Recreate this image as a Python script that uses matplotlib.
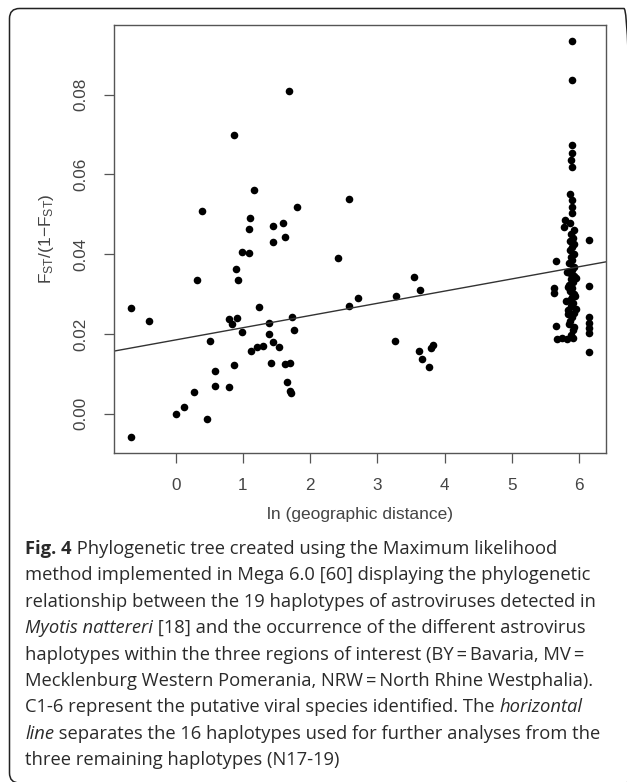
import numpy as np
import matplotlib.pyplot as plt
from matplotlib.patches import FancyBboxPatch

plt.rcParams["mathtext.fontset"] = "custom"
plt.rcParams["mathtext.rm"] = "Liberation Sans"

# points: ln(geographic distance) vs Fst/(1-Fst)
ln_dist = [
    -0.66, -0.66, -0.40, 0.00, 0.12, 0.27, 0.32, 0.39, 0.46, 0.51, 0.58, 0.58,
    0.79, 0.79, 0.83, 0.86, 0.86, 0.89, 0.91, 0.93, 0.98, 0.99, 1.09, 1.09,
    1.10, 1.12, 1.17, 1.21, 1.24, 1.30, 1.39, 1.39, 1.41, 1.44, 1.45, 1.45,
    1.53, 1.59, 1.62, 1.63, 1.66, 1.68, 1.70, 1.70, 1.71, 1.73, 1.76, 1.81,
    2.42, 2.57, 2.58, 2.71, 3.26, 3.28, 3.54, 3.62, 3.64, 3.66, 3.77, 3.80, 3.82,
]
fst = [
    0.0264, -0.0058, 0.0233, -0.0001, 0.0016, 0.0054, 0.0336, 0.0509, -0.0013, 0.0182, 0.0107, 0.0070,
    0.0237, 0.0067, 0.0225, 0.0121, 0.0698, 0.0362, 0.0240, 0.0336, 0.0204, 0.0405, 0.0464, 0.0402,
    0.0490, 0.0158, 0.0561, 0.0167, 0.0267, 0.0170, 0.0227, 0.0199, 0.0128, 0.0470, 0.0430, 0.0179,
    0.0166, 0.0479, 0.0444, 0.0125, 0.0079, 0.0810, 0.0128, 0.0057, 0.0051, 0.0242, 0.0210, 0.0519,
    0.0390, 0.0270, 0.0538, 0.0291, 0.0182, 0.0295, 0.0344, 0.0156, 0.0310, 0.0138, 0.0116, 0.0164, 0.0171,
]

# the large-distance cluster near ln = 6
ln_far = [
    5.89, 5.89, 5.89, 5.90, 5.88, 5.90, 5.87, 5.90, 5.90, 5.90, 5.79, 5.78,
    5.86, 5.92, 5.88, 5.91, 5.87, 5.93, 5.89, 5.86, 5.92, 5.88, 5.90, 5.85,
    5.92, 5.89, 5.86, 5.93, 5.88, 5.91, 5.85, 5.90, 5.87, 5.92, 5.89, 5.86,
    5.91, 5.88, 5.84, 5.92, 5.89, 5.87, 5.91,
    5.82, 5.95, 5.83, 5.94, 5.81, 5.95, 5.83, 5.85, 5.93, 5.88,
    5.65, 5.63, 5.63, 5.65, 5.67, 5.74, 5.82, 5.91,
    6.14, 6.14, 6.14, 6.14, 6.14, 6.14, 6.14,
]
fst_far = [
    0.0934, 0.0837, 0.0673, 0.0653, 0.0637, 0.0620, 0.0551, 0.0536, 0.0519, 0.0504, 0.0486, 0.0469,
    0.0478, 0.0460, 0.0450, 0.0441, 0.0432, 0.0425, 0.0417, 0.0410, 0.0401, 0.0393, 0.0385, 0.0377,
    0.0368, 0.0360, 0.0352, 0.0345, 0.0338, 0.0330, 0.0322, 0.0315, 0.0307, 0.0300, 0.0293, 0.0285,
    0.0277, 0.0269, 0.0260, 0.0252, 0.0243, 0.0232, 0.0210,
    0.0355, 0.0340, 0.0318, 0.0296, 0.0282, 0.0262, 0.0249, 0.0226, 0.0218, 0.0198,
    0.0383, 0.0315, 0.0302, 0.0220, 0.0187, 0.0189, 0.0187, 0.0190,
    0.0436, 0.0319, 0.0243, 0.0227, 0.0214, 0.0202, 0.0155,
]

# fitted line
fit_intercept = 0.0185
fit_slope = 0.00306

caption = [
    [("Fig. 4", "bold", "normal"), (" Phylogenetic tree created using the Maximum likelihood", "normal", "normal")],
    [("method implemented in Mega 6.0 [60] displaying the phylogenetic", "normal", "normal")],
    [("relationship between the 19 haplotypes of astroviruses detected in", "normal", "normal")],
    [("Myotis nattereri", "normal", "italic"), (" [18] and the occurrence of the different astrovirus", "normal", "normal")],
    [("haplotypes within the three regions of interest (BY\u2009=\u2009Bavaria, MV\u2009=", "normal", "normal")],
    [("Mecklenburg Western Pomerania, NRW\u2009=\u2009North Rhine Westphalia).", "normal", "normal")],
    [("C1-6 represent the putative viral species identified. The ", "normal", "normal"), ("horizontal", "normal", "italic")],
    [("line", "normal", "italic"), (" separates the 16 haplotypes used for further analyses from the", "normal", "normal")],
    [("three remaining haplotypes (N17-19)", "normal", "normal")],
]

W, H = 627, 782
fig = plt.figure(figsize=(W / 100, H / 100), dpi=100)

# outer rounded frame (right and bottom sides run off the canvas)
frame = FancyBboxPatch((9.5 / W, 1 - 783 / H), (634 - 9.5) / W, (783 - 8.5) / H,
                       boxstyle="round,pad=0,rounding_size=0.016",
                       transform=fig.transFigure, fill=False, ec="#222222", lw=1.1,
                       mutation_aspect=W / H)
fig.patches.append(frame)

ax = fig.add_axes([113.7 / W, 1 - 452.7 / H, (606 - 113.7) / W, (452.7 - 25) / H])
ax.scatter(ln_dist, fst, s=30, c="black", linewidths=0)
ax.scatter(ln_far, fst_far, s=30, c="black", linewidths=0)
ax.axline((0, fit_intercept), slope=fit_slope, color="#333333", lw=1.0)

ax.set_xlim(-0.923, 6.40)
ax.set_ylim(-0.0098, 0.0975)
ax.set_xticks(range(0, 7))
ax.set_yticks([0.00, 0.02, 0.04, 0.06, 0.08])
ax.set_yticklabels(["0.00", "0.02", "0.04", "0.06", "0.08"], rotation=90, va="center")
for lab in ax.get_xticklabels() + ax.get_yticklabels():
    lab.set_fontfamily("Liberation Sans")
    lab.set_fontsize(12.3)
    lab.set_color("#444444")
ax.tick_params(direction="out", length=7.5, width=0.9, color="#555555", pad=11)
for sp in ax.spines.values():
    sp.set_color("#555555")
    sp.set_linewidth(1.0)

ax.set_xlabel("ln (geographic distance)", fontsize=12.5, family="Liberation Sans",
              color="#444444", labelpad=10)
ax.set_ylabel(r"$\mathregular{F_{ST}/(1\mathregular{-}F_{ST})}$", fontsize=12.5,
              family="Liberation Sans", color="#444444", labelpad=12)

# caption, line by line; segments placed one after another on the same baseline
renderer = fig.canvas.get_renderer()
y0 = 554
step = 26.4
for i, segs in enumerate(caption):
    x = 25.0
    y = 1 - (y0 + i * step) / H
    for text, weight, style in segs:
        t = fig.text(x / W, y, text, fontsize=13.2, family="Open Sans", weight=weight,
                     style=style, color="#2a2a2a", va="baseline", ha="left")
        x += t.get_window_extent(renderer).width

fig.savefig("out.png", dpi=100)
